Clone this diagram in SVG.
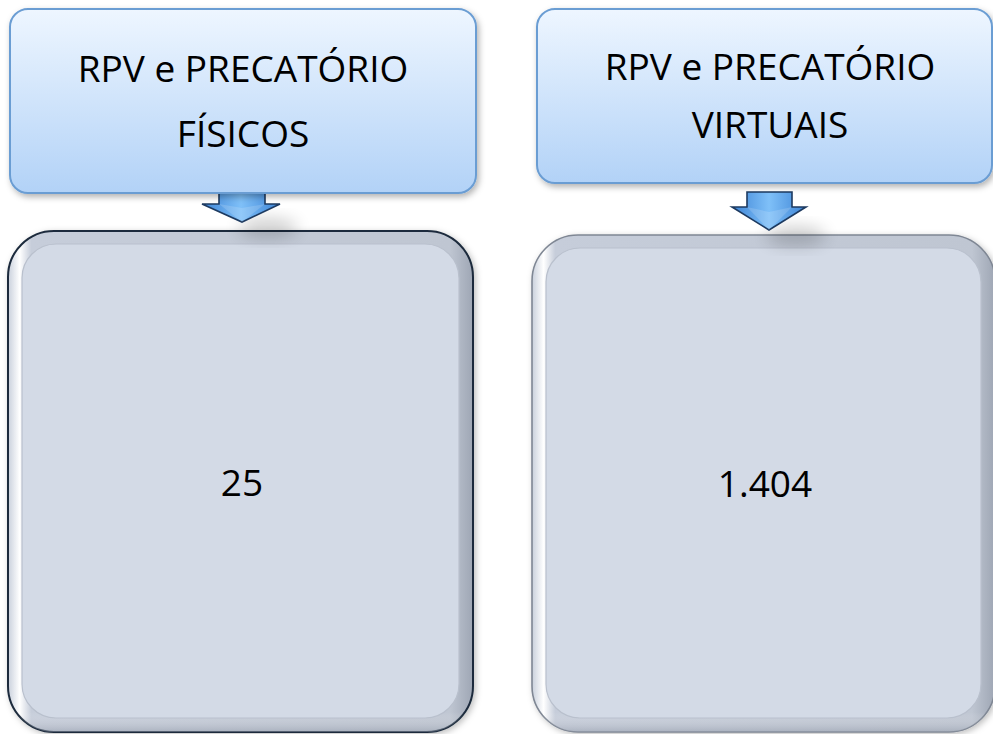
<svg xmlns="http://www.w3.org/2000/svg" width="993" height="734" viewBox="0 0 993 734">
  <style>
    .lbl { font-family: "Open Sans", "Liberation Sans", sans-serif; font-size: 37px; fill: #000; text-anchor: middle; }
    .head { fill: url(#gHead); stroke: #6b9dd3; stroke-width: 2; filter: url(#shTop); }
    .face { fill: #d3dae6; stroke: #b9c0cd; stroke-width: 1.2; }
    .arrow { fill: url(#gArrow); stroke: #1d3a60; stroke-width: 1.6; stroke-linejoin: miter; }
  </style>
  <defs>
    <linearGradient id="gHead" x1="0" y1="0" x2="0" y2="1">
      <stop offset="0" stop-color="#eef6ff"/>
      <stop offset="1" stop-color="#b2d2f7"/>
    </linearGradient>
    <linearGradient id="gBevel" x1="0" y1="0" x2="1" y2="0">
      <stop offset="0" stop-color="#c9d0dc"/>
      <stop offset="0.025" stop-color="#ffffff"/>
      <stop offset="0.05" stop-color="#c6cdda"/>
      <stop offset="0.95" stop-color="#bfc6d2"/>
      <stop offset="1" stop-color="#9ea6b4"/>
    </linearGradient>
    <linearGradient id="gBevelV" x1="0" y1="0" x2="0" y2="1">
      <stop offset="0" stop-color="#ffffff" stop-opacity="0"/>
      <stop offset="0.96" stop-color="#ffffff" stop-opacity="0"/>
      <stop offset="1" stop-color="#8f97a6" stop-opacity="0.5"/>
    </linearGradient>
    <linearGradient id="gArrow" x1="0" y1="0" x2="1" y2="0">
      <stop offset="0" stop-color="#3d84d6"/>
      <stop offset="0.5" stop-color="#7fc0f8"/>
      <stop offset="1" stop-color="#3d84d6"/>
    </linearGradient>
    <filter id="shTop" x="-5%" y="-5%" width="110%" height="120%">
      <feDropShadow dx="2" dy="3" stdDeviation="3" flood-color="#000" flood-opacity="0.3"/>
    </filter>
    <filter id="shBox" x="-5%" y="-5%" width="110%" height="110%">
      <feDropShadow dx="2" dy="2" stdDeviation="3" flood-color="#000" flood-opacity="0.25"/>
    </filter>
    <filter id="blur" x="-50%" y="-50%" width="200%" height="200%">
      <feGaussianBlur stdDeviation="8"/>
    </filter>
  </defs>
  <rect width="993" height="734" fill="#ffffff"/>

  <g id="node-fisicos-count">
    <rect x="8" y="231" width="465" height="501" rx="46" fill="url(#gBevel)" stroke="#1c2b3c" stroke-width="2" filter="url(#shBox)"/>
    <rect x="8" y="231" width="465" height="501" rx="46" fill="url(#gBevelV)"/>
    <rect x="22" y="244" width="437" height="474" rx="34" class="face"/>
    <text x="242" y="496" class="lbl">25</text>
  </g>

  <g id="node-virtuais-count">
    <rect x="532" y="235" width="463" height="497" rx="46" fill="url(#gBevel)" stroke="#7f8794" stroke-width="1.6" filter="url(#shBox)"/>
    <rect x="532" y="235" width="463" height="497" rx="46" fill="url(#gBevelV)"/>
    <rect x="546" y="248" width="435" height="470" rx="34" class="face"/>
    <text x="765" y="497" class="lbl">1.404</text>
  </g>

  <g id="connectors">
    <ellipse cx="268" cy="228" rx="30" ry="10" fill="#000" opacity="0.18" filter="url(#blur)"/>
    <ellipse cx="796" cy="236" rx="30" ry="10" fill="#000" opacity="0.18" filter="url(#blur)"/>
    <polygon class="arrow" points="219,190 265,190 265,204 280,204 242,222 202,204 219,204"/>
    <polygon class="arrow" points="747,192 792,192 792,207 806,207 769,230 732,207 747,207"/>
    <polygon points="242,222 219,204 242,208 265,204" fill="#ffffff" opacity="0.15"/>
    <polygon points="769,230 747,207 769,212 792,207" fill="#ffffff" opacity="0.15"/>
  </g>

  <g id="node-fisicos">
    <rect x="10" y="9" width="466" height="184" rx="18" class="head"/>
    <text x="243" y="82" class="lbl">RPV e PRECATÓRIO</text>
    <text x="243" y="147" class="lbl">FÍSICOS</text>
  </g>

  <g id="node-virtuais">
    <rect x="537" y="9" width="455" height="174" rx="18" class="head"/>
    <text x="770" y="80" class="lbl">RPV e PRECATÓRIO</text>
    <text x="770" y="138" class="lbl">VIRTUAIS</text>
  </g>
</svg>
